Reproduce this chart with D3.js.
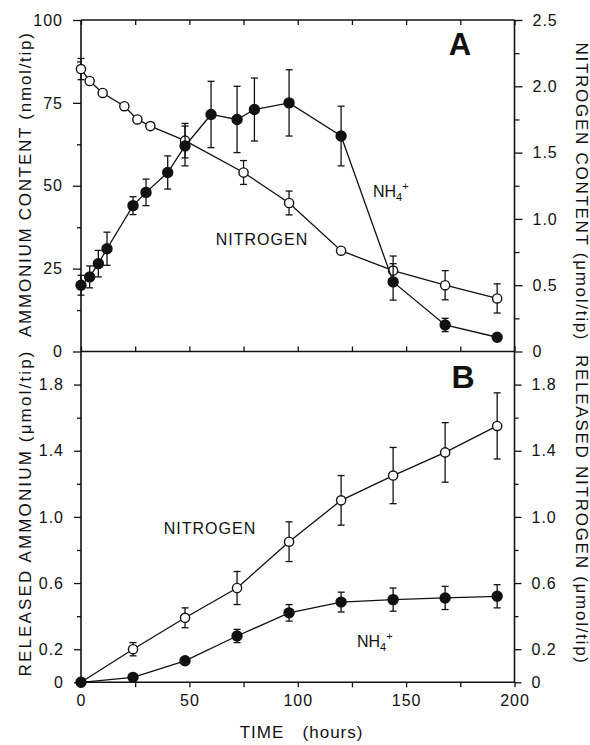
<!DOCTYPE html>
<html>
<head>
<meta charset="utf-8">
<script src="https://cdn.jsdelivr.net/npm/d3@7"></script>
<style>
    body { margin: 0; background: #fff; }
    svg { display: block; }
    text { font-family: "Liberation Sans", Arial, Helvetica, sans-serif; fill: #111; }
</style>
</head>
<body>
<svg id="vis" width="590" height="745"></svg>
<script>
// panel A : ammonium (nmol/tip, left axis) and nitrogen (umol/tip, right axis)
var hoursA_nh4 = [0, 4, 8, 12, 24, 30, 40, 48, 60, 72, 80, 96, 120, 144, 168, 192];
var nh4A = [20, 22.5, 26.5, 31, 44, 48, 54, 62, 71.5, 70, 73, 75, 65, 21, 8, 4.3];
var nh4A_err = [3, 3.3, 4, 5, 2.7, 4, 5, 6, 10, 10, 9.5, 10, 9, 5.5, 2, 0];

var hoursA_n = [0, 4, 10, 20, 26, 32, 48, 75, 96, 120, 144, 168, 192];
var nitrogenA = [2.13, 2.04, 1.95, 1.85, 1.75, 1.70, 1.59, 1.35, 1.12, 0.76, 0.61, 0.50, 0.40];
var nitrogenA_err = [0.08, 0, 0, 0, 0, 0, 0.13, 0.09, 0.09, 0, 0.11, 0.11, 0.11];

// panel B : released ammonium and released nitrogen (umol/tip)
var hoursB = [0, 24, 48, 72, 96, 120, 144, 168, 192];
var nitrogenB = [0, 0.20, 0.39, 0.57, 0.85, 1.10, 1.25, 1.39, 1.55];
var nitrogenB_err = [0, 0.04, 0.06, 0.10, 0.12, 0.15, 0.17, 0.18, 0.20];
var nh4B = [0, 0.03, 0.13, 0.28, 0.42, 0.485, 0.50, 0.51, 0.52];
var nh4B_err = [0, 0, 0.012, 0.04, 0.05, 0.06, 0.07, 0.07, 0.07];

// tick values
var timeTicks = [0, 25, 50, 75, 100, 125, 150, 175, 200];
var timeLabels = [0, 50, 100, 150, 200];
var leftA_major = [0, 25, 50, 75, 100];
var leftA_minor = [12.5, 37.5, 62.5, 87.5];
var rightA_major = [0, 0.5, 1.0, 1.5, 2.0, 2.5];
var rightA_minor = [0.25, 0.75, 1.25, 1.75, 2.25];
var B_major = [0, 0.2, 0.6, 1.0, 1.4, 1.8];
var B_minor = [0.4, 0.8, 1.2, 1.6];

var svg = d3.select("#vis");

var x = d3.scaleLinear().domain([0, 200]).range([81, 514.5]);
var yA = d3.scaleLinear().domain([0, 100]).range([351.5, 20]);
var yA2 = d3.scaleLinear().domain([0, 2.5]).range([351.5, 20]);
var yB = d3.scaleLinear().domain([0, 2.0]).range([682.3, 351.5]);

function fmt(d) {
    return d === 0 ? "0" : d3.format(".1f")(d);
}

function styleAxis(g) {
    g.select(".domain").remove();
    g.selectAll("line").attr("stroke", "#111").attr("stroke-width", 1.3);
    g.selectAll("text").style("font-size", "16px").style("letter-spacing", "1px").attr("fill", "#111");
}

// frame
var frame = svg.append("g").attr("stroke", "#111").attr("stroke-width", 1.6).attr("fill", "none");
frame.append("line").attr("x1", x(0)).attr("x2", x(0)).attr("y1", yA(100)).attr("y2", yB(0));
frame.append("line").attr("x1", x(200)).attr("x2", x(200)).attr("y1", yA(100)).attr("y2", yB(0));
frame.append("line").attr("x1", x(0)).attr("x2", x(200)).attr("y1", yA(100)).attr("y2", yA(100));
frame.append("line").attr("x1", x(0)).attr("x2", x(200)).attr("y1", yA(0)).attr("y2", yA(0));
frame.append("line").attr("x1", x(0)).attr("x2", x(200)).attr("y1", yB(0)).attr("y2", yB(0));

// time ticks : inward on panel A, outward under panel B
svg.append("g").attr("transform", "translate(0," + yA(100) + ")")
    .call(d3.axisTop(x).tickValues(timeTicks).tickSize(-5).tickFormat(""))
    .call(styleAxis);
svg.append("g").attr("transform", "translate(0," + yA(0) + ")")
    .call(d3.axisTop(x).tickValues(timeTicks).tickSize(5).tickFormat(""))
    .call(styleAxis);
svg.append("g").attr("transform", "translate(0," + yB(0) + ")")
    .call(d3.axisBottom(x).tickValues(timeTicks).tickSize(5).tickFormat(""))
    .call(styleAxis);
svg.append("g").attr("transform", "translate(0," + yB(0) + ")")
    .call(d3.axisBottom(x).tickValues(timeLabels).tickSize(0).tickPadding(12).tickFormat(d3.format("d")))
    .call(styleAxis);

// left axes
svg.append("g").attr("transform", "translate(" + x(0) + ",0)")
    .call(d3.axisLeft(yA).tickValues(leftA_major).tickSize(8).tickPadding(10))
    .call(styleAxis);
svg.append("g").attr("transform", "translate(" + x(0) + ",0)")
    .call(d3.axisLeft(yA).tickValues(leftA_minor).tickSize(4).tickFormat(""))
    .call(styleAxis);
svg.append("g").attr("transform", "translate(" + x(0) + ",0)")
    .call(d3.axisLeft(yB).tickValues(B_major).tickSize(7).tickPadding(10).tickFormat(fmt))
    .call(styleAxis);
svg.append("g").attr("transform", "translate(" + x(0) + ",0)")
    .call(d3.axisLeft(yB).tickValues(B_minor).tickSize(4).tickFormat(""))
    .call(styleAxis);

// right axes
svg.append("g").attr("transform", "translate(" + x(200) + ",0)")
    .call(d3.axisRight(yA2).tickValues(rightA_major).tickSize(8).tickPadding(10).tickFormat(fmt))
    .call(styleAxis);
svg.append("g").attr("transform", "translate(" + x(200) + ",0)")
    .call(d3.axisRight(yA2).tickValues(rightA_minor).tickSize(5).tickFormat(""))
    .call(styleAxis);
svg.append("g").attr("transform", "translate(" + x(200) + ",0)")
    .call(d3.axisRight(yB).tickValues(B_major).tickSize(7).tickPadding(10).tickFormat(fmt))
    .call(styleAxis);
svg.append("g").attr("transform", "translate(" + x(200) + ",0)")
    .call(d3.axisRight(yB).tickValues(B_minor).tickSize(4).tickFormat(""))
    .call(styleAxis);

function series(hours, vals, errs, y, filled) {
    var pts = hours.map(function(h, i) {
        return { h: h, v: vals[i], e: errs[i] };
    });
    var g = svg.append("g");
    var line = d3.line()
        .x(function(d) { return x(d.h); })
        .y(function(d) { return y(d.v); });
    g.append("path")
        .attr("d", line(pts))
        .attr("fill", "none")
        .attr("stroke", "#111")
        .attr("stroke-width", 1.3);
    var eb = g.selectAll(".err")
        .data(pts.filter(function(d) { return d.e > 0; }))
        .enter().append("g")
        .attr("stroke", "#111")
        .attr("stroke-width", 1.3);
    eb.append("line")
        .attr("x1", function(d) { return x(d.h); })
        .attr("x2", function(d) { return x(d.h); })
        .attr("y1", function(d) { return y(d.v - d.e); })
        .attr("y2", function(d) { return y(d.v + d.e); });
    [-1, 1].forEach(function(s) {
        eb.append("line")
            .attr("x1", function(d) { return x(d.h) - 3.5; })
            .attr("x2", function(d) { return x(d.h) + 3.5; })
            .attr("y1", function(d) { return y(d.v + s * d.e); })
            .attr("y2", function(d) { return y(d.v + s * d.e); });
    });
    g.selectAll("circle")
        .data(pts)
        .enter().append("circle")
        .attr("cx", function(d) { return x(d.h); })
        .attr("cy", function(d) { return y(d.v); })
        .attr("r", filled ? 5 : 4.6)
        .attr("fill", filled ? "#111" : "#fff")
        .attr("stroke", "#111")
        .attr("stroke-width", 1.4);
}

series(hoursA_n, nitrogenA, nitrogenA_err, yA2, false);
series(hoursA_nh4, nh4A, nh4A_err, yA, true);
series(hoursB, nitrogenB, nitrogenB_err, yB, false);
series(hoursB, nh4B, nh4B_err, yB, true);

// axis titles
function vtitle(label, cx, cy, len, angle) {
    svg.append("text")
        .attr("transform", "translate(" + cx + "," + cy + ") rotate(" + angle + ")")
        .attr("text-anchor", "middle")
        .attr("textLength", len)
        .attr("lengthAdjust", "spacing")
        .style("font-size", "17px")
        .text(label);
}
vtitle("AMMONIUM CONTENT (nmol/tip)", 31, 185, 304, -90);
vtitle("RELEASED AMMONIUM  (\u03bcmol/tip)", 31, 514, 325, -90);
vtitle("NITROGEN CONTENT (\u03bcmol/tip)", 576, 191, 297, 90);
vtitle("RELEASED NITROGEN (\u03bcmol/tip)", 576, 509, 308, 90);

svg.append("text").attr("x", 262).attr("y", 738).attr("text-anchor", "middle")
    .style("font-size", "17px").style("letter-spacing", "1px").text("TIME");
svg.append("text").attr("x", 333).attr("y", 738).attr("text-anchor", "middle")
    .style("font-size", "17px").style("letter-spacing", "1px").text("(hours)");

// panel letters
svg.append("text").attr("x", 460).attr("y", 55).attr("text-anchor", "middle")
    .style("font-size", "31px").style("font-weight", "bold").text("A");
svg.append("text").attr("x", 463).attr("y", 388).attr("text-anchor", "middle")
    .style("font-size", "32px").style("font-weight", "bold").text("B");

// series labels
function nitroLabel(cx, by) {
    svg.append("text").attr("x", cx).attr("y", by).attr("text-anchor", "middle")
        .style("font-size", "16px").style("letter-spacing", "1px").text("NITROGEN");
}
nitroLabel(262, 245);
nitroLabel(210, 534);

function nh4Label(lx, by) {
    var t = svg.append("text").attr("x", lx).attr("y", by).style("font-size", "16px");
    t.append("tspan").text("NH");
    t.append("tspan").attr("dy", 4).style("font-size", "11px").text("4");
    t.append("tspan").attr("dy", -11).style("font-size", "11px").text("+");
}
nh4Label(373, 197);
nh4Label(357, 647);
</script>
</body>
</html>
